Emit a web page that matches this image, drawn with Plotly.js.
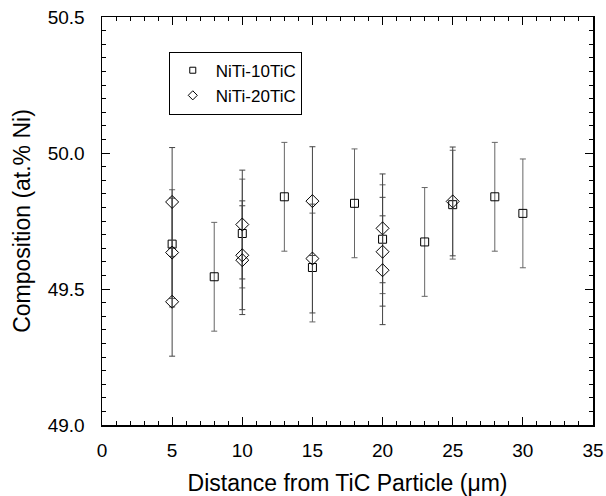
<!DOCTYPE html>
<html>
<head>
<meta charset="utf-8">
<script src="https://cdn.plot.ly/plotly-3.0.1.min.js"></script>
<style>html,body{margin:0;padding:0;background:#fff;}#chart{width:606px;height:496px;}</style>
</head>
<body>
<div id="chart"></div>
<script>
// NiTi-10TiC (open squares)
const sqX = [5, 8, 10, 13, 15, 18, 20, 23, 25, 28, 30];
const sqY = [49.665, 49.545, 49.704, 49.839, 49.579, 49.815, 49.683, 49.673, 49.81, 49.839, 49.778];
const sqErr = [0.2, 0.2, 0.2, 0.2, 0.2, 0.2, 0.2, 0.2, 0.2, 0.2, 0.2];
// NiTi-20TiC (open diamonds)
const diX = [5, 5, 5, 10, 10, 10, 15, 15, 20, 20, 20, 25];
const diY = [49.82, 49.634, 49.453, 49.737, 49.624, 49.606, 49.823, 49.612, 49.723, 49.637, 49.569, 49.822];
const diErr = [0.2, 0.2, 0.2, 0.2, 0.2, 0.2, 0.2, 0.2, 0.2, 0.2, 0.2, 0.2];
const names = ['NiTi-10TiC', 'NiTi-20TiC'];

const FONT = 'Arial, "Liberation Sans", Helvetica, sans-serif';

const traces = [
  {
    x: sqX, y: sqY, name: names[0], type: 'scatter', mode: 'markers', showlegend: false,
    marker: {symbol: 'square-open', size: 8, color: '#000', line: {width: 1, color: '#000'}},
    error_y: {type: 'data', array: sqErr, visible: true, color: '#666', thickness: 1, width: 3}
  },
  {
    x: diX, y: diY, name: names[1], type: 'scatter', mode: 'markers', showlegend: false,
    marker: {symbol: 'diamond-open', size: 10, color: '#000', line: {width: 1, color: '#000'}},
    error_y: {type: 'data', array: diErr, visible: true, color: '#444', thickness: 1, width: 3}
  },
  // legend-only entries with the small symbols used in the original key
  {
    x: [null], y: [null], name: names[0], type: 'scatter', mode: 'markers',
    marker: {symbol: 'square-open', size: 6, color: '#000', line: {width: 1, color: '#000'}}
  },
  {
    x: [null], y: [null], name: names[1], type: 'scatter', mode: 'markers',
    marker: {symbol: 'diamond-open', size: 7, color: '#000', line: {width: 1, color: '#000'}}
  }
];

const layout = {
  width: 606, height: 496,
  margin: {l: 102, r: 13, t: 17, b: 71},
  paper_bgcolor: '#fff', plot_bgcolor: '#fff',
  font: {family: FONT, color: '#000', size: 19},
  showlegend: true,
  legend: {
    x: 0.136, y: 0.915, xanchor: 'left', yanchor: 'top',
    bordercolor: '#000', borderwidth: 1, bgcolor: '#fff',
    font: {family: FONT, size: 17, color: '#000'},
    itemwidth: 36
  },
  xaxis: {
    range: [0, 35], dtick: 5, tick0: 0,
    ticks: 'inside', ticklen: 8, tickwidth: 1, tickcolor: '#000',
    minor: {dtick: 1, ticks: 'inside', ticklen: 4, tickwidth: 1, tickcolor: '#000'},
    showline: true, linecolor: '#000', linewidth: 1.5, mirror: 'allticks',
    showgrid: false, zeroline: false,
    tickfont: {family: FONT, size: 19},
    ticklabelstandoff: 8,
    title: {text: 'Distance from TiC Particle (\u03bcm)', font: {family: FONT, size: 23}, standoff: 14}
  },
  yaxis: {
    range: [49.0, 50.5], dtick: 0.5, tick0: 49, tickformat: '.1f',
    ticks: 'inside', ticklen: 8, tickwidth: 1, tickcolor: '#000',
    minor: {dtick: 0.05, ticks: 'inside', ticklen: 4, tickwidth: 1, tickcolor: '#000'},
    showline: true, linecolor: '#000', linewidth: 1.5, mirror: 'allticks',
    showgrid: false, zeroline: false,
    tickfont: {family: FONT, size: 19},
    ticklabelstandoff: 12,
    title: {text: 'Composition (at.% Ni)', font: {family: FONT, size: 23}, standoff: 10}
  }
};

Plotly.newPlot('chart', traces, layout, {displayModeBar: false, staticPlot: true});
</script>
</body>
</html>
